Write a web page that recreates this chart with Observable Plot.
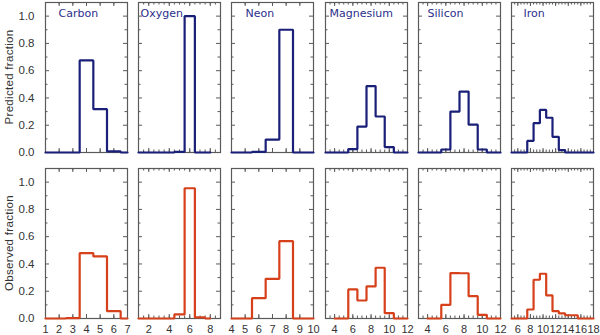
<!DOCTYPE html>
<html><head><meta charset="utf-8">
<script src="https://cdn.jsdelivr.net/npm/d3@7"></script>
<script src="https://cdn.jsdelivr.net/npm/@observablehq/plot@0.6"></script>
<style>
body{margin:0;background:#fff;}
#fig{position:relative;width:600px;height:335px;overflow:hidden;background:#fff;}
#fig svg{position:absolute;}
.rowtitle{position:absolute;white-space:nowrap;font-family:'Liberation Sans',Arial,sans-serif;font-size:11.5px;
  color:#333;letter-spacing:0.3px;transform:translate(-50%,-50%) rotate(-90deg);line-height:1;}
</style></head><body><div id="fig"></div>
<script>
// ---- data ----
const elements = ["Carbon", "Oxygen", "Neon", "Magnesium", "Silicon", "Iron"];

const carbonX = [1, 2, 3, 4, 5, 6, 7];
const carbonPred = [0, 0, 0, 0.675, 0.318, 0.008, 0];
const carbonObsX = [1, 2, 3, 4, 5, 6, 7];
const carbonObs = [0, 0, 0.003, 0.479, 0.455, 0.054, 0];

const oxygenX = [1, 2, 3, 4, 5, 6, 7, 8];
const oxygenPred = [0, 0, 0, 0, 0.005, 1.0, 0, 0];
const oxygenObsX = [1, 2, 3, 4, 5, 6, 7, 8];
const oxygenObs = [0, 0, 0, 0, 0.03, 0.955, 0.008, 0];

const neonX = [4, 5, 6, 7, 8, 9, 10];
const neonPred = [0, 0, 0.005, 0.095, 0.90, 0, 0];
const neonObsX = [4, 5, 6, 7, 8, 9, 10];
const neonObs = [0, 0, 0.149, 0.291, 0.567, 0, 0];

const magnesiumX = [3, 4, 5, 6, 7, 8, 9, 10, 11, 12];
const magnesiumPred = [0, 0, 0, 0.025, 0.19, 0.487, 0.264, 0.04, 0, 0];
const magnesiumObsX = [4, 5, 6, 7, 8, 9, 10, 11, 12];
const magnesiumObs = [0, 0, 0.213, 0.132, 0.235, 0.372, 0.039, 0, 0];

const siliconX = [3, 4, 5, 6, 7, 8, 9, 10, 11, 12];
const siliconPred = [0, 0, 0, 0.022, 0.30, 0.447, 0.204, 0.022, 0, 0];
const siliconObsX = [4, 5, 6, 7, 8, 9, 10, 11, 12];
const siliconObs = [0, 0, 0.10, 0.333, 0.332, 0.164, 0.027, 0, 0];

const ironX = [5, 6, 7, 8, 9, 10, 11, 12, 13, 14, 15, 16, 17, 18];
const ironPred = [0, 0, 0, 0.085, 0.215, 0.312, 0.255, 0.115, 0.018, 0, 0, 0, 0, 0];
const ironObsX = [5, 6, 7, 8, 9, 10, 11, 12, 13, 14, 15, 16, 17, 18];
const ironObs = [0, 0, 0, 0.066, 0.284, 0.328, 0.169, 0.054, 0.037, 0.024, 0.024, 0, 0, 0];

// axis ranges and tick labels
const xDomains = [[1, 7], [1, 9], [4, 10], [3, 12], [3, 12], [5, 18]];
const xTickLabels = [
  [1, 2, 3, 4, 5, 6, 7],
  [2, 4, 6, 8],
  [4, 5, 6, 7, 8, 9, 10],
  [4, 6, 8, 10, 12],
  [4, 6, 8, 10, 12],
  [6, 8, 10, 12, 14, 16, 18]
];
const xMinorSteps = [1, 0.5, 1, 0.5, 0.5, 0.5];
const yTickLabels = [0.0, 0.2, 0.4, 0.6, 0.8, 1.0];
const yMinor = [0.1, 0.3, 0.5, 0.7, 0.9];
const yDomain = [0, 1.1];
const rowTitles = ["Predicted fraction", "Observed fraction"];

const predicted = [
  [carbonX, carbonPred], [oxygenX, oxygenPred], [neonX, neonPred],
  [magnesiumX, magnesiumPred], [siliconX, siliconPred], [ironX, ironPred]
];
const observed = [
  [carbonObsX, carbonObs], [oxygenObsX, oxygenObs], [neonObsX, neonObs],
  [magnesiumObsX, magnesiumObs], [siliconObsX, siliconObs], [ironObsX, ironObs]
];

// ---- layout / style ----
const colLeft = [45, 138, 231, 325, 418, 511];
const rowTop = [2, 168];
const fw = 82, fh = 150;
const labelDx = [13, 2, 14, 4, 9, 12];
const navy = "#1a1f78";
const red = "#d6401a";
const frameColor = "#5a5a5a";
const fig = document.getElementById("fig");

function panel(row, col) {
  const [xs, ys] = (row === 0 ? predicted : observed)[col];
  const data = xs.map((x, i) => ({x, y: ys[i]}));
  const mL = col === 0 ? 45 : 4, mR = 4;
  const mT = row === 0 ? 2 : 4, mB = row === 0 ? 4 : 17;
  const dom = xDomains[col];
  const minor = d3.range(dom[0], dom[1] + 1e-9, xMinorSteps[col]);
  const marks = [
    Plot.frame({stroke: frameColor, strokeWidth: 1.2}),
    // inward ticks
    Plot.ruleX(minor, {x: d => d, insetTop: fh - 2.5, stroke: frameColor}),
    Plot.ruleX(minor, {x: d => d, insetBottom: fh - 2.5, stroke: frameColor}),
    Plot.ruleX(xTickLabels[col], {x: d => d, insetTop: fh - 4, stroke: frameColor}),
    Plot.ruleX(xTickLabels[col], {x: d => d, insetBottom: fh - 4, stroke: frameColor}),
    Plot.ruleY(yTickLabels, {y: d => d, insetRight: fw - 4, stroke: frameColor}),
    Plot.ruleY(yTickLabels, {y: d => d, insetLeft: fw - 4, stroke: frameColor}),
    Plot.ruleY(yMinor, {y: d => d, insetRight: fw - 2.5, stroke: frameColor}),
    Plot.ruleY(yMinor, {y: d => d, insetLeft: fw - 2.5, stroke: frameColor}),
    Plot.line(data, {x: "x", y: "y", curve: "step", stroke: row === 0 ? navy : red, strokeWidth: 2.2, strokeLinejoin: "miter"})
  ];
  if (row === 0) {
    marks.push(Plot.text([elements[col]], {
      frameAnchor: "top-left", dx: labelDx[col], dy: 10.5, lineAnchor: "middle",
      textAnchor: "start", fill: "#2b2f8c", fontSize: 11,
      fontFamily: "DejaVu Sans", style: "letter-spacing:0.3px"
    }));
  }
  if (row === 1) {
    marks.push(Plot.axisX({ticks: xTickLabels[col], tickFormat: d => String(d), tickSize: 0, tickPadding: 7,
      fontSize: 11, fill: "#333", label: null}));
  }
  if (col === 0) {
    marks.push(Plot.axisY({ticks: yTickLabels, tickFormat: d3.format(".1f"), tickSize: 0, tickPadding: 11,
      fontSize: 11.5, fill: "#333", label: null}));
  }
  const svg = Plot.plot({
    width: fw + mL + mR, height: fh + mT + mB,
    marginLeft: mL, marginRight: mR, marginTop: mT, marginBottom: mB,
    x: {domain: dom, axis: null},
    y: {domain: yDomain, axis: null},
    style: {fontFamily: "'Liberation Sans', Arial, sans-serif", background: "transparent", overflow: "visible", maxWidth: "none"},
    marks
  });
  svg.style.left = (colLeft[col] - mL) + "px";
  svg.style.top = (rowTop[row] - mT) + "px";
  fig.appendChild(svg);
}
for (let r = 0; r < 2; r++) for (let c = 0; c < 6; c++) panel(r, c);

// row titles (rotated), centred on each row's frames
rowTitles.forEach((t, r) => {
  const div = document.createElement("div");
  div.className = "rowtitle";
  div.textContent = t;
  div.style.left = "10px";
  div.style.top = (rowTop[r] + fh / 2) + "px";
  fig.appendChild(div);
});
</script></body></html>
